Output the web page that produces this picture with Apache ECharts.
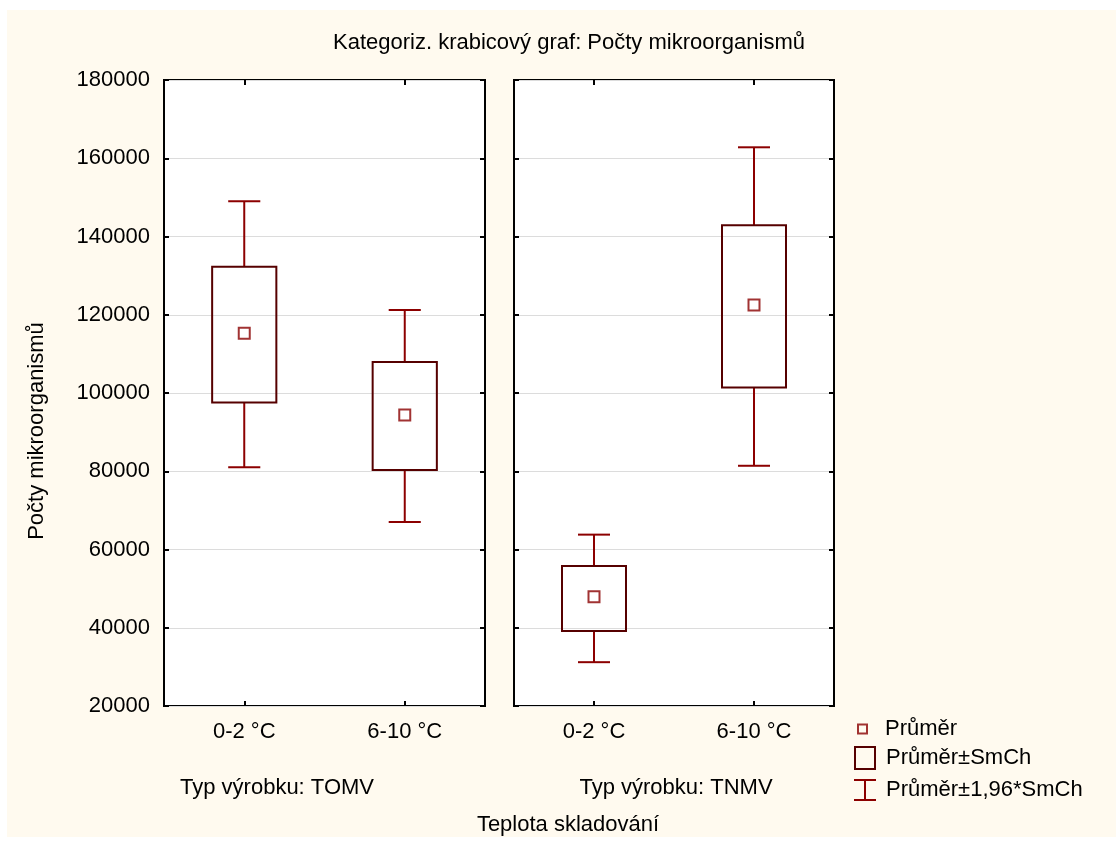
<!DOCTYPE html>
<html>
<head>
<meta charset="utf-8">
<title>Kategoriz. krabicový graf</title>
<script src="https://cdn.jsdelivr.net/npm/echarts@6/dist/echarts.min.js"></script>
<style>
  html, body { margin: 0; padding: 0; background: #ffffff; }
  #bg { position: absolute; left: 7px; top: 10px; right: 0; bottom: 6px; background: #fffaef; }
  #chart { position: absolute; left: 0; top: 0; width: 1116px; height: 843px; }
</style>
</head>
<body>
<div id="bg"></div>
<div id="chart"></div>
<script>
// data
const categories = ['0-2 °C', '6-10 °C'];
const panelNames = ['Typ výrobku: TOMV', 'Typ výrobku: TNMV'];

// TOMV
const meanTOMV = [115300, 94400];
const boxLowTOMV = [97600, 80300];
const boxHighTOMV = [132300, 107900];
const whiskLowTOMV = [81000, 67000];
const whiskHighTOMV = [149000, 121200];

// TNMV
const meanTNMV = [47900, 122500];
const boxLowTNMV = [39200, 101400];
const boxHighTNMV = [55800, 142900];
const whiskLowTNMV = [31200, 81400];
const whiskHighTNMV = [63800, 162800];

const yTicks = [20000, 40000, 60000, 80000, 100000, 120000, 140000, 160000, 180000];

const FONT = 'Liberation Sans';
const FS = 22;
const BOX_COLOR = '#560000';
const WHISK_COLOR = '#8c0000';
const MEAN_COLOR = '#8a0000';

const chart = echarts.init(document.getElementById('chart'));

const grids = [
  { left: 164, top: 80, width: 321, height: 626 },
  { left: 514, top: 80, width: 320, height: 626 }
];

function boxRender(params, api) {
  const lo = api.coord([api.value(0), api.value(1)]);
  const hi = api.coord([api.value(0), api.value(2)]);
  const w = api.size([1, 0])[0] * 0.4;
  return {
    type: 'rect',
    shape: { x: lo[0] - w / 2, y: hi[1], width: w, height: lo[1] - hi[1] },
    style: { fill: 'transparent', stroke: BOX_COLOR, lineWidth: 2 }
  };
}

function whiskerRender(params, api) {
  const c = api.value(0);
  const wLo = api.coord([c, api.value(1)]);
  const bLo = api.coord([c, api.value(2)]);
  const bHi = api.coord([c, api.value(3)]);
  const wHi = api.coord([c, api.value(4)]);
  const cap = api.size([1, 0])[0] * 0.1;
  const x = wLo[0];
  const st = { stroke: WHISK_COLOR, lineWidth: 2 };
  return {
    type: 'group',
    children: [
      { type: 'line', shape: { x1: x, y1: bHi[1], x2: x, y2: wHi[1] }, style: st },
      { type: 'line', shape: { x1: x - cap, y1: wHi[1], x2: x + cap, y2: wHi[1] }, style: st },
      { type: 'line', shape: { x1: x, y1: bLo[1], x2: x, y2: wLo[1] }, style: st },
      { type: 'line', shape: { x1: x - cap, y1: wLo[1], x2: x + cap, y2: wLo[1] }, style: st }
    ]
  };
}

function boxData(lo, hi) {
  return categories.map((c, i) => [i, lo[i], hi[i]]);
}
function whiskData(wl, bl, bh, wh) {
  return categories.map((c, i) => [i, wl[i], bl[i], bh[i], wh[i]]);
}
function meanData(m) {
  return categories.map((c, i) => [i, m[i]]);
}

const tickStyle = { show: true, inside: true, length: 5, lineStyle: { color: '#000', width: 2 } };

const xAxes = [];
const yAxes = [];
grids.forEach((g, gi) => {
  // bottom category axis with labels
  xAxes.push({
    type: 'category', gridIndex: gi, data: categories, position: 'bottom',
    axisLine: { show: false },
    axisTick: Object.assign({ alignWithLabel: true }, tickStyle),
    axisLabel: { color: '#000', fontFamily: FONT, fontSize: FS, margin: 15 },
    splitLine: { show: false }
  });
  // top axis, ticks only
  xAxes.push({
    type: 'category', gridIndex: gi, data: categories, position: 'top',
    axisLine: { show: false },
    axisTick: Object.assign({ alignWithLabel: true }, tickStyle),
    axisLabel: { show: false },
    splitLine: { show: false }
  });
  yAxes.push({
    type: 'value', gridIndex: gi, position: 'left',
    min: yTicks[0], max: yTicks[yTicks.length - 1], interval: 20000,
    axisLine: { show: false },
    axisTick: tickStyle,
    axisLabel: { show: gi === 0, color: '#000', fontFamily: FONT, fontSize: FS, margin: 14,
      formatter: v => String(v) },
    splitLine: { show: true, lineStyle: { color: '#dcdcdc', width: 1 } }
  });
  yAxes.push({
    type: 'value', gridIndex: gi, position: 'right',
    min: yTicks[0], max: yTicks[yTicks.length - 1], interval: 20000,
    axisLine: { show: false },
    axisTick: tickStyle,
    axisLabel: { show: false },
    splitLine: { show: false }
  });
});

const legendBase = {
  orient: 'vertical',
  left: 854,
  padding: 0,
  itemGap: 0,
  selectedMode: false,
  textStyle: { color: '#000', fontFamily: FONT, fontSize: FS, padding: [0, 0, 0, 5] }
};

const textFont = FS + 'px "' + FONT + '"';

chart.setOption({
  animation: false,
  title: {
    text: 'Kategoriz. krabicový graf: Počty mikroorganismů',
    left: 569, top: 32, textAlign: 'center', padding: 0,
    textStyle: { color: '#000', fontFamily: FONT, fontSize: 22, fontWeight: 'normal' }
  },
  legend: [
    Object.assign({}, legendBase, {
      top: 718, left: 857, itemWidth: 11, itemHeight: 11,
      data: [{ name: 'Průměr', icon: 'path://M0,0h11v11h-11z M2,2v7h7v-7z', itemStyle: { color: MEAN_COLOR, borderWidth: 0 } }],
      textStyle: Object.assign({}, legendBase.textStyle, { padding: [0, 0, 0, 12] })
    }),
    Object.assign({}, legendBase, {
      top: 746, itemWidth: 22, itemHeight: 24,
      data: [{ name: 'Průměr±SmCh', icon: 'path://M0,0h22v24h-22z M2,2v20h18v-20z', itemStyle: { color: BOX_COLOR, borderWidth: 0 } }]
    }),
    Object.assign({}, legendBase, {
      top: 779, itemWidth: 22, itemHeight: 22,
      data: [{ name: 'Průměr±1,96*SmCh', icon: 'path://M0,0h22v2h-22z M10,2h2v18h-2z M0,20h22v2h-22z', itemStyle: { color: WHISK_COLOR, borderWidth: 0 } }]
    })
  ],
  graphic: [
    { type: 'text', x: 37, y: 431, rotation: Math.PI / 2, style: { text: 'Počty mikroorganismů', fill: '#000', font: textFont, align: 'center', verticalAlign: 'middle' } },
    { type: 'text', x: 277, y: 788, style: { text: panelNames[0], fill: '#000', font: textFont, align: 'center', verticalAlign: 'middle' } },
    { type: 'text', x: 676, y: 788, style: { text: panelNames[1], fill: '#000', font: textFont, align: 'center', verticalAlign: 'middle' } },
    { type: 'text', x: 568, y: 825, style: { text: 'Teplota skladování', fill: '#000', font: textFont, align: 'center', verticalAlign: 'middle' } }
  ],
  grid: grids.map(g => Object.assign({
    show: true, backgroundColor: '#ffffff', borderColor: '#000', borderWidth: 2
  }, g)),
  xAxis: xAxes,
  yAxis: yAxes,
  series: [
    { name: 'Průměr±1,96*SmCh', type: 'custom', xAxisIndex: 0, yAxisIndex: 0, renderItem: whiskerRender,
      itemStyle: { color: WHISK_COLOR },
      data: whiskData(whiskLowTOMV, boxLowTOMV, boxHighTOMV, whiskHighTOMV), z: 3 },
    { name: 'Průměr±SmCh', type: 'custom', xAxisIndex: 0, yAxisIndex: 0, renderItem: boxRender,
      itemStyle: { color: BOX_COLOR },
      data: boxData(boxLowTOMV, boxHighTOMV), z: 4 },
    { name: 'Průměr', type: 'scatter', xAxisIndex: 0, yAxisIndex: 0,
      symbol: 'rect', symbolSize: 11,
      itemStyle: { color: '#ffffff', borderColor: MEAN_COLOR, borderWidth: 2 },
      data: meanData(meanTOMV), z: 5 },
    { name: 'Průměr±1,96*SmCh', type: 'custom', xAxisIndex: 2, yAxisIndex: 2, renderItem: whiskerRender,
      itemStyle: { color: WHISK_COLOR },
      data: whiskData(whiskLowTNMV, boxLowTNMV, boxHighTNMV, whiskHighTNMV), z: 3 },
    { name: 'Průměr±SmCh', type: 'custom', xAxisIndex: 2, yAxisIndex: 2, renderItem: boxRender,
      itemStyle: { color: BOX_COLOR },
      data: boxData(boxLowTNMV, boxHighTNMV), z: 4 },
    { name: 'Průměr', type: 'scatter', xAxisIndex: 2, yAxisIndex: 2,
      symbol: 'rect', symbolSize: 11,
      itemStyle: { color: '#ffffff', borderColor: MEAN_COLOR, borderWidth: 2 },
      data: meanData(meanTNMV), z: 5 }
  ]
});

window.addEventListener('resize', () => chart.resize());
</script>
</body>
</html>
